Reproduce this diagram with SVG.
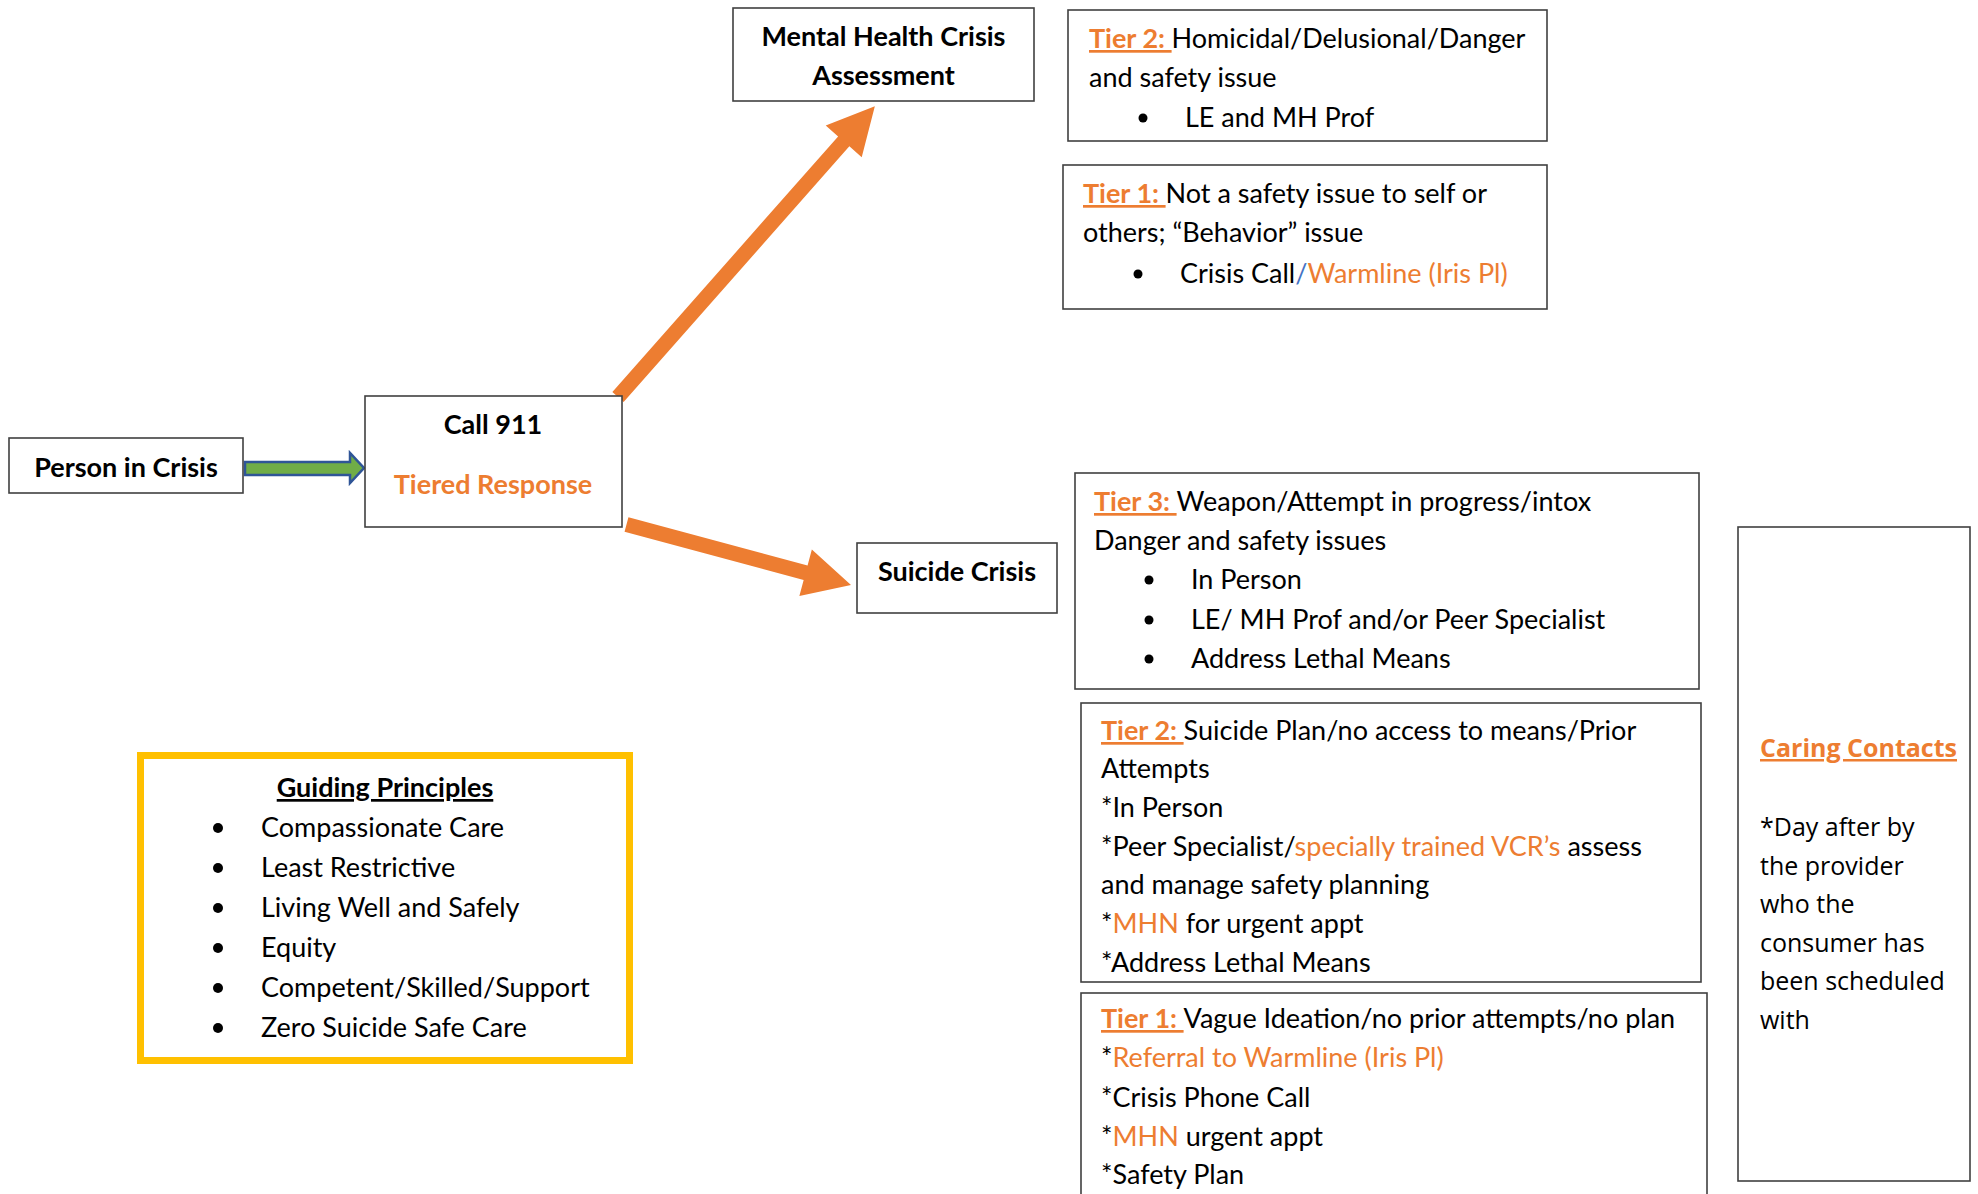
<svg xmlns="http://www.w3.org/2000/svg" width="1978" height="1194" viewBox="0 0 1978 1194">
<defs>
<style>
.box{fill:#fff;stroke:#404040;stroke-width:1.6}
.t{font-family:Lato,"Liberation Sans",sans-serif;font-size:27px;fill:#000}
.c{font-family:"Open Sans","Noto Sans",sans-serif;font-size:25px;fill:#000}
.b{font-weight:bold}
.m{text-anchor:middle}
.o{fill:#ED7D31}
.bl{fill:#4472C4}
.u{text-decoration:underline}
.dot{fill:#000}
.orange-arrow{fill:#ED7D31}
</style>
</defs>
<rect width="1978" height="1194" fill="#fff"/>

<g id="connectors">
  <polygon id="arrow-person-call" points="245,462 350,462 350,453 364,468 350,483 350,475 245,475" fill="#70AD47" stroke="#2F5597" stroke-width="2.5" stroke-linejoin="miter"/>
  <path id="arrow-call-mh" class="orange-arrow" transform="translate(618,397) rotate(-48.55)" d="M0,-7.5 L341,-7.5 L341,-24 L388,0 L341,24 L341,7.5 L0,7.5 Z"/>
  <path id="arrow-call-suicide" class="orange-arrow" transform="translate(626.5,524.5) rotate(15.08)" d="M0,-7.5 L185.5,-7.5 L185.5,-24 L232.5,0 L185.5,24 L185.5,7.5 L0,7.5 Z"/>
</g>

<g id="person-in-crisis">
  <rect class="box" x="9" y="438" width="234" height="55"/>
  <text class="t b m" x="126" y="477">Person in Crisis</text>
</g>

<g id="call-911">
  <rect class="box" x="365" y="396" width="257" height="131"/>
  <text class="t b m" x="493" y="434">Call 911</text>
  <text class="t b m o" x="493" y="494">Tiered Response</text>
</g>

<g id="mh-assessment">
  <rect class="box" x="733" y="8" width="301" height="93"/>
  <text class="t b m" x="883.5" y="46">Mental Health Crisis</text>
  <text class="t b m" x="883.5" y="85">Assessment</text>
</g>

<g id="mh-tier2">
  <rect class="box" x="1068" y="10" width="479" height="131"/>
  <text class="t" x="1089" y="48"><tspan class="o u b">Tier 2: </tspan>Homicidal/Delusional/Danger</text>
  <text class="t" x="1089" y="87">and safety issue</text>
  <circle class="dot" cx="1143" cy="118" r="4.5"/>
  <text class="t" x="1185" y="127">LE and MH Prof</text>
</g>

<g id="mh-tier1">
  <rect class="box" x="1063" y="165" width="484" height="144"/>
  <text class="t" x="1083" y="203"><tspan class="o u b">Tier 1: </tspan>Not a safety issue to self or</text>
  <text class="t" x="1083" y="242">others; “Behavior” issue</text>
  <circle class="dot" cx="1138" cy="274" r="4.5"/>
  <text class="t" x="1180" y="283">Crisis Call<tspan class="bl">/</tspan><tspan class="o">Warmline (Iris Pl)</tspan></text>
</g>

<g id="suicide-crisis">
  <rect class="box" x="857" y="543" width="200" height="70"/>
  <text class="t b m" x="957" y="581">Suicide Crisis</text>
</g>

<g id="suicide-tier3">
  <rect class="box" x="1075" y="473" width="624" height="216"/>
  <text class="t" x="1094" y="511"><tspan class="o u b">Tier 3: </tspan>Weapon/Attempt in progress/intox</text>
  <text class="t" x="1094" y="550">Danger and safety issues</text>
  <circle class="dot" cx="1149" cy="580" r="4.5"/>
  <text class="t" x="1191" y="589">In Person</text>
  <circle class="dot" cx="1149" cy="620" r="4.5"/>
  <text class="t" x="1191" y="629">LE/ MH Prof and/or Peer Specialist</text>
  <circle class="dot" cx="1149" cy="659" r="4.5"/>
  <text class="t" x="1191" y="668">Address Lethal Means</text>
</g>

<g id="suicide-tier2">
  <rect class="box" x="1081" y="703" width="620" height="279"/>
  <text class="t" x="1101" y="740"><tspan class="o u b">Tier 2: </tspan>Suicide Plan/no access to means/Prior</text>
  <text class="t" x="1101" y="778">Attempts</text>
  <text class="t" x="1101" y="817">*In Person</text>
  <text class="t" x="1101" y="856">*Peer Specialist/<tspan class="o">specially trained VCR’s</tspan> assess</text>
  <text class="t" x="1101" y="894">and manage safety planning</text>
  <text class="t" x="1101" y="933">*<tspan class="o">MHN</tspan> for urgent appt</text>
  <text class="t" x="1101" y="972">*Address Lethal Means</text>
</g>

<g id="suicide-tier1">
  <rect class="box" x="1081" y="993" width="626" height="215"/>
  <text class="t" x="1101" y="1028"><tspan class="o u b">Tier 1: </tspan>Vague Ideation/no prior attempts/no plan</text>
  <text class="t" x="1101" y="1067">*<tspan class="o">Referral to Warmline (Iris Pl)</tspan></text>
  <text class="t" x="1101" y="1107">*Crisis Phone Call</text>
  <text class="t" x="1101" y="1146">*<tspan class="o">MHN</tspan> urgent appt</text>
  <text class="t" x="1101" y="1184">*Safety Plan</text>
</g>

<g id="caring-contacts">
  <rect class="box" x="1738" y="527" width="232" height="654"/>
  <text class="c b o u" x="1760" y="757">Caring Contacts</text>
  <text class="c" x="1760" y="836">*Day after by</text>
  <text class="c" x="1760" y="874.5">the provider</text>
  <text class="c" x="1760" y="913">who the</text>
  <text class="c" x="1760" y="951.5">consumer has</text>
  <text class="c" x="1760" y="990">been scheduled</text>
  <text class="c" x="1760" y="1028.5">with</text>
</g>

<g id="guiding-principles">
  <rect x="140.5" y="755.5" width="489" height="305" fill="#fff" stroke="#FFC000" stroke-width="7"/>
  <text class="t b m u" x="385" y="797">Guiding Principles</text>
  <circle class="dot" cx="218" cy="828" r="5"/>
  <text class="t" x="261" y="837">Compassionate Care</text>
  <circle class="dot" cx="218" cy="868" r="5"/>
  <text class="t" x="261" y="877">Least Restrictive</text>
  <circle class="dot" cx="218" cy="908" r="5"/>
  <text class="t" x="261" y="917">Living Well and Safely</text>
  <circle class="dot" cx="218" cy="948" r="5"/>
  <text class="t" x="261" y="957">Equity</text>
  <circle class="dot" cx="218" cy="988" r="5"/>
  <text class="t" x="261" y="997">Competent/Skilled/Support</text>
  <circle class="dot" cx="218" cy="1028" r="5"/>
  <text class="t" x="261" y="1037">Zero Suicide Safe Care</text>
</g>
</svg>
